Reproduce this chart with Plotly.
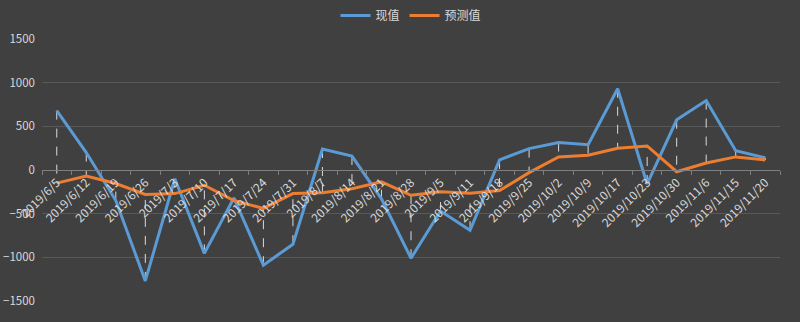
import plotly.graph_objects as go

dates = ["2019/6/5", "2019/6/12", "2019/6/19", "2019/6/26", "2019/7/3", "2019/7/10",
         "2019/7/17", "2019/7/24", "2019/7/31", "2019/8/7", "2019/8/14", "2019/8/21",
         "2019/8/28", "2019/9/5", "2019/9/11", "2019/9/18", "2019/9/25", "2019/10/2",
         "2019/10/9", "2019/10/17", "2019/10/23", "2019/10/30", "2019/11/6",
         "2019/11/15", "2019/11/20"]

actual = [680, 200, -350, -1270, -100, -955, -320, -1090, -850, 240, 160, -330,
          -1010, -470, -690, 115, 245, 315, 290, 930, -160, 575, 795, 220, 140]

forecast = [-150, -70, -155, -280, -270, -175, -350, -440, -270, -260, -215, -135,
            -290, -250, -265, -235, -30, 150, 170, 250, 275, -20, 80, 150, 115]

y_ticks = [-1500, -1000, -500, 0, 500, 1000, 1500]

# high-low connector lines built from the two series
hx, hy = [], []
for d, a, f in zip(dates, actual, forecast):
    hx += [d, d, None]
    hy += [a, f, None]

fig = go.Figure()
fig.add_trace(go.Scatter(x=hx, y=hy, mode="lines", showlegend=False, hoverinfo="skip",
                         line=dict(color="#d9d9d9", width=1, dash="dash")))
fig.add_trace(go.Scatter(x=dates, y=actual, mode="lines", name="现值",
                         line=dict(color="#5B9BD5", width=3)))
fig.add_trace(go.Scatter(x=dates, y=forecast, mode="lines", name="预测值",
                         line=dict(color="#ED7D31", width=3)))

fig.update_layout(
    width=800, height=322,
    margin=dict(l=42, r=20, t=39, b=21, autoexpand=False),
    paper_bgcolor="#404040", plot_bgcolor="#404040",
    font=dict(family="Noto Sans CJK SC, Liberation Sans, sans-serif", color="#d9d9d9", size=11),
    legend=dict(orientation="h", x=0.5, xanchor="center", y=1.09, yanchor="middle",
                font=dict(size=12, color="#d9d9d9"), bgcolor="rgba(0,0,0,0)",
                itemwidth=30),
    xaxis=dict(type="category", categoryorder="array", categoryarray=dates,
               range=[-0.5, len(dates) - 0.5], automargin=False,
               anchor="free", position=0.5, showgrid=False,
               showline=True, linecolor="#7f7f7f", linewidth=1,
               ticks="outside", tickson="boundaries", ticklen=4, tickcolor="#7f7f7f",
               tickangle=-45, tickfont=dict(size=12, color="#d9d9d9")),
    yaxis=dict(range=[-1500, 1500], tickvals=y_ticks, showgrid=True, automargin=False,
               gridcolor="#595959", gridwidth=1, zeroline=False,
               ticklabelstandoff=6, tickfont=dict(size=11.5, color="#d9d9d9")),
)

fig.write_html("out.html")
